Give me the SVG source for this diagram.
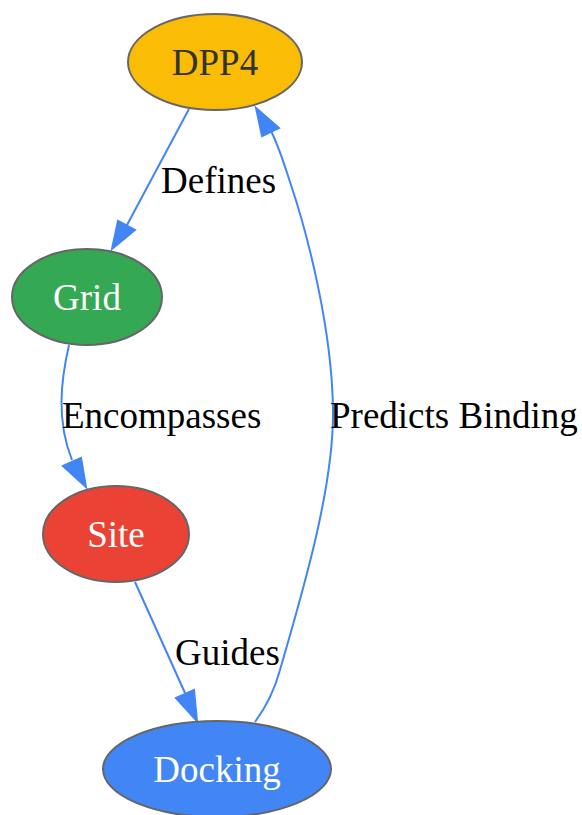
<svg xmlns="http://www.w3.org/2000/svg" width="582" height="815" viewBox="0 0 582 815">
<defs>
<style>
.node ellipse{stroke:#666666;stroke-width:2}
.nt{font-family:"Liberation Serif","Times New Roman",serif;font-size:37px;text-anchor:middle}
.edge path{fill:none;stroke:#4285F4;stroke-width:2}
.edge polygon{fill:#4285F4;stroke:#4285F4;stroke-width:2}
.el{font-family:"Liberation Serif","Times New Roman",serif;font-size:37px;fill:#000000}
</style>
</defs>
<rect width="582" height="815" fill="#ffffff"/>
<g id="edges">
<g class="edge" id="e_dpp4_grid">
<path d="M189,109 L127,225"/>
<polygon points="118,221 135,230 112,249"/>
<text class="el" x="161" y="193">Defines</text>
</g>
<g class="edge" id="e_grid_site">
<path d="M69,345 C61,380 56,420 72,460"/>
<polygon points="63,466 81,458 86,487"/>
<text class="el" x="62" y="428">Encompasses</text>
</g>
<g class="edge" id="e_site_docking">
<path d="M135,582 L185,693"/>
<polygon points="176,698 194,690 197,721"/>
<text class="el" x="175" y="665">Guides</text>
</g>
<g class="edge" id="e_docking_dpp4">
<path d="M255,722 C266,707 274,692 280,670 C300,600 334,490 333,410 C332,330 308,235 290,182 C284,163 279,147 271,131"/>
<polygon points="262,136 279,128 256,108"/>
<text class="el" x="330" y="428">Predicts Binding</text>
</g>
</g>
<g class="node" id="DPP4">
<ellipse cx="215" cy="62" rx="87" ry="48" fill="#FBBC05"/>
<text class="nt" x="215" y="75" fill="#333333">DPP4</text>
</g>
<g class="node" id="Grid">
<ellipse cx="87" cy="297" rx="75" ry="48" fill="#34A853"/>
<text class="nt" x="87" y="310" fill="#ffffff">Grid</text>
</g>
<g class="node" id="Site">
<ellipse cx="116" cy="534" rx="73" ry="48" fill="#EA4335"/>
<text class="nt" x="116" y="547" fill="#ffffff">Site</text>
</g>
<g class="node" id="Docking">
<ellipse cx="217" cy="769" rx="114" ry="48" fill="#4285F4"/>
<text class="nt" x="217" y="782" fill="#ffffff">Docking</text>
</g>
</svg>
